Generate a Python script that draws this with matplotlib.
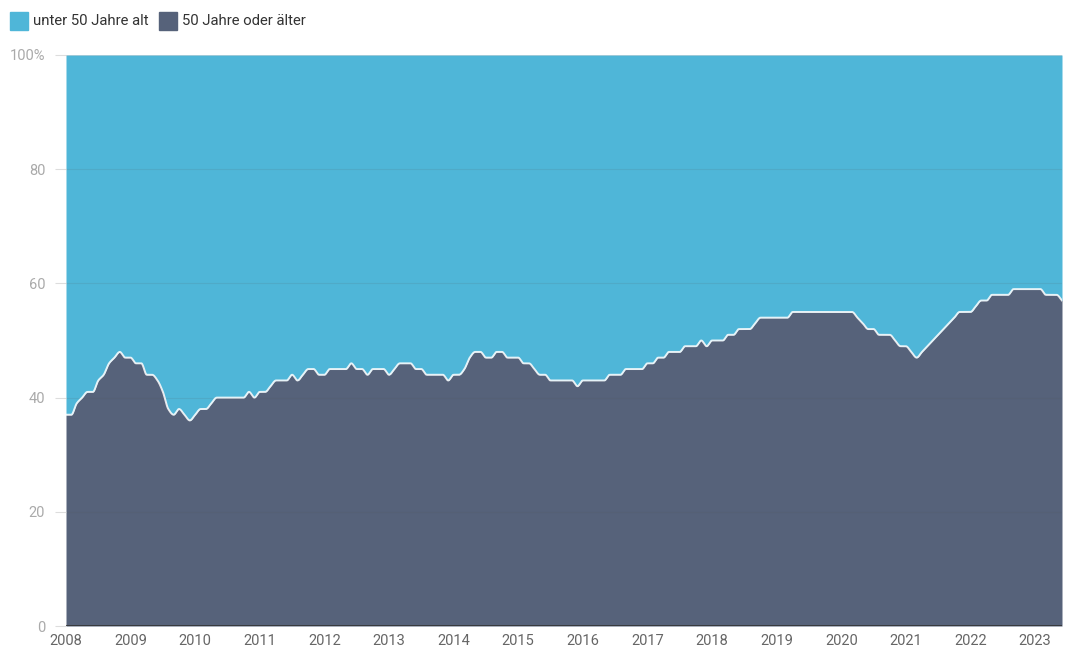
import numpy as np
import matplotlib
matplotlib.use('Agg')
import matplotlib.pyplot as plt
from matplotlib.patches import Rectangle

plt.rcParams['font.family'] = ['Roboto', 'DejaVu Sans']

# monthly share (%) of people aged 50 or older, Jan 2008 .. Jun 2023
start_year = 2008
older = [
    37, 37, 39, 40, 41, 41, 43, 44, 46, 47, 48, 47,   # 2008
    47, 46, 46, 44, 44, 43, 41, 38, 37, 38, 37, 36,   # 2009
    37, 38, 38, 39, 40, 40, 40, 40, 40, 40, 41, 40,   # 2010
    41, 41, 42, 43, 43, 43, 44, 43, 44, 45, 45, 44,   # 2011
    44, 45, 45, 45, 45, 46, 45, 45, 44, 45, 45, 45,   # 2012
    44, 45, 46, 46, 46, 45, 45, 44, 44, 44, 44, 43,   # 2013
    44, 44, 45, 47, 48, 48, 47, 47, 48, 48, 47, 47,   # 2014
    47, 46, 46, 45, 44, 44, 43, 43, 43, 43, 43, 42,   # 2015
    43, 43, 43, 43, 43, 44, 44, 44, 45, 45, 45, 45,   # 2016
    46, 46, 47, 47, 48, 48, 48, 49, 49, 49, 50, 49,   # 2017
    50, 50, 50, 51, 51, 52, 52, 52, 53, 54, 54, 54,   # 2018
    54, 54, 54, 55, 55, 55, 55, 55, 55, 55, 55, 55,   # 2019
    55, 55, 55, 54, 53, 52, 52, 51, 51, 51, 50, 49,   # 2020
    49, 48, 47, 48, 49, 50, 51, 52, 53, 54, 55, 55,   # 2021
    55, 56, 57, 57, 58, 58, 58, 58, 59, 59, 59, 59,   # 2022
    59, 59, 58, 58, 58, 57,                           # 2023
]
younger = [100 - v for v in older]
year_ticks = list(range(2008, 2024))
y_ticks = [0, 20, 40, 60, 80, 100]
y_labels = ['0', '20', '40', '60', '80', '100%']
series_names = ['unter 50 Jahre alt', '50 Jahre oder älter']
colors = ['#4fb6d8', '#56627a']


def monotone(x, y, n=12):
    # Fritsch-Carlson monotone cubic, like the original smooth line
    x = np.asarray(x, float)
    y = np.asarray(y, float)
    h = np.diff(x)
    d = np.diff(y) / h
    m = np.zeros_like(y)
    m[0], m[-1] = d[0], d[-1]
    for i in range(1, len(y) - 1):
        if d[i - 1] * d[i] <= 0:
            m[i] = 0
        else:
            w1 = 2 * h[i] + h[i - 1]
            w2 = h[i] + 2 * h[i - 1]
            m[i] = (w1 + w2) / (w1 / d[i - 1] + w2 / d[i])
    xs, ys = [], []
    for i in range(len(x) - 1):
        t = np.linspace(0, 1, n, endpoint=False)
        h00 = 2 * t**3 - 3 * t**2 + 1
        h10 = t**3 - 2 * t**2 + t
        h01 = -2 * t**3 + 3 * t**2
        h11 = t**3 - t**2
        xs.append(x[i] + t * h[i])
        ys.append(h00 * y[i] + h10 * h[i] * m[i] + h01 * y[i + 1] + h11 * h[i] * m[i + 1])
    xs.append([x[-1]])
    ys.append([y[-1]])
    return np.concatenate(xs), np.concatenate(ys)


t = [start_year + i / 12 for i in range(len(older))]
xs, ys = monotone(t, older)

fig = plt.figure(figsize=(10.69, 6.48), dpi=100)
ax = fig.add_axes([66 / 1069, 1 - 626 / 648, (1062 - 66) / 1069, (626 - 55) / 648])

ax.fill_between(xs, ys, 100, color=colors[0], lw=0, zorder=1)
ax.fill_between(xs, 0, ys, color=colors[1], lw=0, zorder=1)
ax.plot(xs, ys, color='white', lw=1.4, alpha=0.85, zorder=3)

for v in y_ticks[1:]:
    ax.axhline(v, color='#555555', lw=0.8, alpha=0.12, zorder=2)
ax.axhline(0, color='#333333', lw=1.2, zorder=4)

ax.set_xlim(t[0], t[-1])
ax.set_ylim(0, 100)
ax.set_xticks(year_ticks)
ax.set_xticklabels([str(y) for y in year_ticks])
ax.set_yticks(y_ticks)
ax.set_yticklabels(y_labels)
ax.tick_params(axis='x', length=0, pad=6, labelsize=10.5, labelcolor='#666666')
ax.tick_params(axis='y', length=8, width=0.8, color='#dddddd', pad=7,
               labelsize=10.5, labelcolor='#aaaaaa')
for s in ax.spines.values():
    s.set_visible(False)

# legend at the top left
fx = lambda px: px / 1069
fy = lambda py: 1 - py / 648
x0 = 10
for name, c in zip(series_names, colors):
    fig.add_artist(Rectangle((fx(x0), fy(30)), fx(18), 18 / 648, color=c,
                             transform=fig.transFigure))
    txt = fig.text(fx(x0 + 23), fy(21), name, fontsize=10.7, color='#333333', va='center')
    fig.canvas.draw()
    bb = txt.get_window_extent()
    x0 = bb.x1 + 10

fig.savefig('out.png', dpi=100)
